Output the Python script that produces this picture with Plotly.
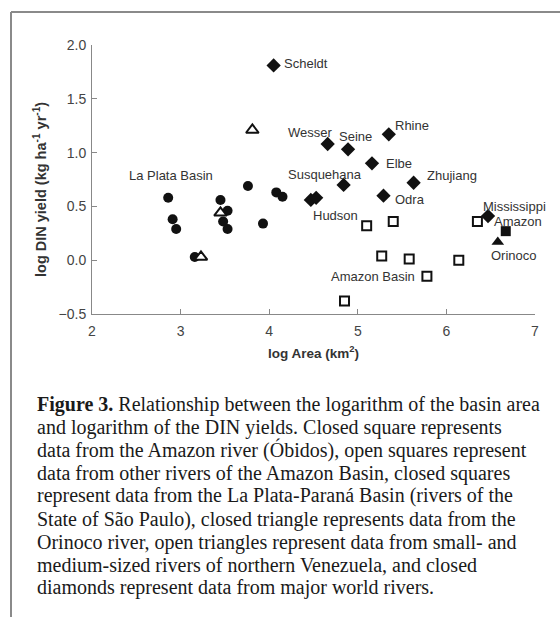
import plotly.graph_objects as go

# ---- data (log area km2, log DIN yield) ----
plata_x = [2.86, 2.91, 2.95, 3.16, 3.45, 3.53, 3.48, 3.53, 3.76, 3.93, 4.08, 4.15]
plata_y = [0.58, 0.38, 0.29, 0.03, 0.56, 0.46, 0.36, 0.29, 0.69, 0.34, 0.63, 0.59]

venez_x = [3.23, 3.45, 3.81]
venez_y = [0.03, 0.44, 1.21]

world_names = ["Scheldt", "Wesser", "Seine", "Rhine", "Elbe", "Zhujiang",
               "Susquehana", "Odra", "Hudson", "Hudson", "Mississippi"]
world_x = [4.05, 4.66, 4.89, 5.35, 5.16, 5.63, 4.84, 5.29, 4.47, 4.53, 6.47]
world_y = [1.81, 1.08, 1.03, 1.17, 0.90, 0.72, 0.70, 0.60, 0.56, 0.58, 0.41]

amzbasin_x = [5.10, 5.40, 6.35, 5.27, 5.58, 6.14, 5.78, 4.85]
amzbasin_y = [0.32, 0.36, 0.36, 0.04, 0.01, 0.00, -0.15, -0.38]

amazon_x = [6.67]
amazon_y = [0.27]

orinoco_x = [6.58]
orinoco_y = [0.17]

# point labels
label_text = ["Scheldt", "Wesser", "Seine", "Rhine", "Elbe", "Zhujiang",
              "Susquehana", "Odra", "Hudson", "Mississippi", "Amazon",
              "Orinoco", "Amazon Basin", "La Plata Basin"]
label_x = [4.15, 4.19, 4.77, 5.40, 5.30, 5.76, 4.19, 5.40, 4.47, 6.39, 6.52,
           6.48, 4.67, 2.39]
label_y = [1.83, 1.19, 1.15, 1.25, 0.90, 0.79, 0.80, 0.56, 0.42, 0.50, 0.36,
           0.04, -0.15, 0.79]

x_ticks = [2, 3, 4, 5, 6, 7]
y_ticks = [-0.5, 0.0, 0.5, 1.0, 1.5, 2.0]

y_title = "<b>log DIN yield (kg ha<sup>-1</sup> yr<sup>-1</sup>)</b>"
x_title = "<b>log Area (km<sup>2</sup>)</b>"

caption_lines = [
    "<b>Figure 3.</b> Relationship between the logarithm of the basin area",
    "and logarithm of the DIN yields. Closed square represents",
    "data from the Amazon river (Óbidos), open squares represent",
    "data from other rivers of the Amazon Basin, closed squares",
    "represent data from the La Plata-Paraná Basin (rivers of the",
    "State of São Paulo), closed triangle represents data from the",
    "Orinoco river, open triangles represent data from small- and",
    "medium-sized rivers of northern Venezuela, and closed",
    "diamonds represent data from major world rivers.",
]

# ---- layout geometry (pixels) ----
W, H = 560, 617
L, R, T, B = 92, 25, 45, 303
PW = W - L - R          # plot width
PH = H - T - B          # plot height
E = 2                   # shadow offset in px
AW = PW + E             # paper area width
AH = PH + E             # paper area height


def px(xpix):
    return (xpix - L) / AW


def py(ypix):
    return (T + AH - ypix) / AH


fig = go.Figure()

black = "#111111"
shadow = "rgba(0,0,0,0.28)"

series = [
    (plata_x, plata_y, "circle", 10, black, None),
    (world_x, world_y, "diamond", 11, black, None),
    (amzbasin_x, amzbasin_y, "square", 9, "white", dict(color=black, width=2)),
    (venez_x, venez_y, "triangle-up", 11, "white", dict(color=black, width=2)),
    (amazon_x, amazon_y, "square", 10, black, None),
    (orinoco_x, orinoco_y, "triangle-up", 11, black, None),
]

# drop shadows on a shifted copy of the axes (drawn underneath)
for xs, ys, sym, size, col, line in series:
    fig.add_trace(go.Scatter(x=xs, y=ys, mode="markers", xaxis="x", yaxis="y",
                             marker=dict(symbol=sym, size=size + 3, color=shadow,
                                         line=dict(width=0)),
                             showlegend=False, hoverinfo="skip"))

for xs, ys, sym, size, col, line in series:
    mk = dict(symbol=sym, size=size, color=col)
    if line:
        mk["line"] = line
    else:
        mk["line"] = dict(width=0)
    fig.add_trace(go.Scatter(x=xs, y=ys, mode="markers", xaxis="x2", yaxis="y2",
                             marker=mk, showlegend=False))

annotations = []
for t, x, y in zip(label_text, label_x, label_y):
    annotations.append(dict(x=x, y=y, xref="x2", yref="y2", text=t,
                            showarrow=False, xanchor="left", yanchor="middle",
                            font=dict(family="Liberation Sans, Arial", size=13,
                                      color="#333333")))

# y-axis title as a rotated annotation
annotations.append(dict(x=px(40), y=py(190), xref="paper", yref="paper",
                        text=y_title, textangle=-90, showarrow=False,
                        xanchor="center", yanchor="middle",
                        font=dict(family="Liberation Sans, Arial", size=14.5,
                                  color="#333333")))

cap_top = 404
cap_step = 23
for i, line in enumerate(caption_lines):
    annotations.append(dict(x=px(35), y=py(cap_top + i * cap_step),
                            xref="paper", yref="paper", text=line,
                            showarrow=False, xanchor="left", yanchor="middle",
                            font=dict(family="Liberation Serif, serif", size=20,
                                      color="#1a1a1a")))

shapes = [
    dict(type="line", xref="paper", yref="paper", x0=px(11), x1=px(W + 5),
         y0=py(12), y1=py(12), line=dict(color="#8a8a8a", width=2)),
    dict(type="line", xref="paper", yref="paper", x0=px(11), x1=px(11),
         y0=py(12), y1=py(H + 5), line=dict(color="#8a8a8a", width=2)),
]

axis_common = dict(showgrid=False, zeroline=False)

fig.update_layout(
    width=W, height=H,
    margin=dict(l=L, r=R - E, t=T, b=B - E, pad=0),
    paper_bgcolor="white", plot_bgcolor="white",
    font=dict(family="Liberation Sans, Arial", color="#444444", size=13),
    annotations=annotations, shapes=shapes,
    # shadow axes (invisible, shifted right/down by E px)
    xaxis=dict(range=[2, 7], domain=[E / AW, 1], visible=False, **axis_common),
    yaxis=dict(range=[-0.5, 2.0], domain=[0, PH / AH], visible=False, **axis_common),
    # main visible axes
    xaxis2=dict(range=[2, 7], domain=[0, PW / AW], anchor="y2",
                tickvals=x_ticks, showline=True, linecolor="#888888", linewidth=1,
                ticks="inside", ticklen=5, tickcolor="#888888",
                ticklabelstandoff=4,
                tickfont=dict(size=14, color="#444444"),
                title=dict(text=x_title,
                           font=dict(size=13.5, color="#333333"), standoff=10),
                **axis_common),
    yaxis2=dict(range=[-0.5, 2.0], domain=[E / AH, 1], anchor="x2",
                tickvals=y_ticks, tickformat=".1f",
                showline=True, linecolor="#888888", linewidth=1,
                ticks="inside", ticklen=5, tickcolor="#888888",
                ticklabelstandoff=2,
                tickfont=dict(size=14, color="#444444"),
                **axis_common),
)

fig.write_html("out.html",
               config={"displayModeBar": False},
               post_script="document.body.style.margin='0';"
                           "document.body.style.overflow='hidden';")
